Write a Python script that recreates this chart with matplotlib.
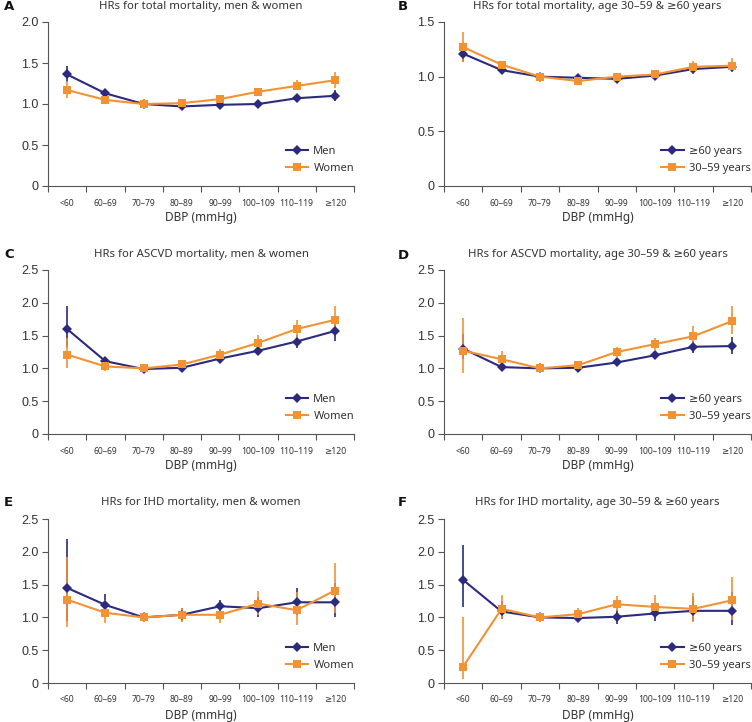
import matplotlib
matplotlib.use("Agg")
import matplotlib.pyplot as plt
from matplotlib.lines import Line2D
import numpy as np

plt.rcParams['font.family'] = ['Noto Sans', 'DejaVu Sans']

categories = ["<60", "60–69", "70–79", "80–89", "90–99", "100–109", "110–119", "≥120"]

# Panel A: total mortality, men & women
a_men = [1.36, 1.13, 1.00, 0.97, 0.99, 1.00, 1.07, 1.10]
a_men_lo = [1.27, 1.10, 0.99, 0.95, 0.97, 0.96, 1.03, 1.04]
a_men_hi = [1.46, 1.15, 1.01, 0.99, 1.01, 1.04, 1.12, 1.17]
a_women = [1.17, 1.05, 1.00, 1.01, 1.06, 1.15, 1.22, 1.29]
a_women_lo = [1.07, 1.03, 0.99, 0.99, 1.04, 1.13, 1.17, 1.19]
a_women_hi = [1.28, 1.08, 1.01, 1.03, 1.08, 1.18, 1.29, 1.39]

# Panel B: total mortality, age groups
b_old = [1.21, 1.06, 1.00, 0.99, 0.98, 1.01, 1.07, 1.09]
b_old_lo = [1.13, 1.04, 0.99, 0.97, 0.96, 1.00, 1.05, 1.07]
b_old_hi = [1.28, 1.08, 1.01, 1.01, 1.00, 1.03, 1.10, 1.12]
b_young = [1.27, 1.11, 1.00, 0.96, 1.00, 1.02, 1.09, 1.10]
b_young_lo = [1.13, 1.08, 0.99, 0.95, 0.98, 1.00, 1.02, 1.04]
b_young_hi = [1.41, 1.13, 1.01, 0.98, 1.02, 1.04, 1.14, 1.17]

# Panel C: ASCVD mortality, men & women
c_men = [1.60, 1.11, 0.99, 1.01, 1.15, 1.27, 1.41, 1.57]
c_men_lo = [1.32, 1.05, 0.97, 0.99, 1.11, 1.21, 1.31, 1.42]
c_men_hi = [1.95, 1.18, 1.02, 1.04, 1.18, 1.33, 1.51, 1.72]
c_women = [1.21, 1.03, 1.00, 1.06, 1.21, 1.39, 1.60, 1.74]
c_women_lo = [1.01, 0.96, 0.98, 1.03, 1.13, 1.28, 1.45, 1.55]
c_women_hi = [1.47, 1.10, 1.02, 1.09, 1.30, 1.51, 1.74, 1.95]

# Panel D: ASCVD mortality, age groups
d_old = [1.30, 1.02, 1.00, 1.01, 1.09, 1.20, 1.33, 1.34]
d_old_lo = [1.14, 0.97, 0.98, 0.98, 1.04, 1.14, 1.24, 1.22]
d_old_hi = [1.53, 1.09, 1.02, 1.05, 1.15, 1.26, 1.42, 1.48]
d_young = [1.27, 1.14, 1.00, 1.05, 1.25, 1.37, 1.49, 1.72]
d_young_lo = [0.93, 1.03, 0.98, 0.99, 1.17, 1.28, 1.37, 1.52]
d_young_hi = [1.77, 1.26, 1.02, 1.12, 1.33, 1.47, 1.64, 1.95]

# Panel E: IHD mortality, men & women
e_men = [1.45, 1.19, 1.00, 1.04, 1.17, 1.14, 1.23, 1.23]
e_men_lo = [0.95, 1.03, 0.98, 0.95, 1.09, 1.01, 1.04, 1.00]
e_men_hi = [2.19, 1.36, 1.02, 1.15, 1.27, 1.31, 1.45, 1.53]
e_women = [1.27, 1.07, 1.00, 1.04, 1.04, 1.21, 1.11, 1.41]
e_women_lo = [0.86, 0.91, 0.98, 0.93, 0.91, 1.03, 0.89, 1.07]
e_women_hi = [1.92, 1.26, 1.02, 1.15, 1.17, 1.41, 1.39, 1.83]

# Panel F: IHD mortality, age groups
f_old = [1.57, 1.09, 1.00, 0.99, 1.01, 1.06, 1.10, 1.10]
f_old_lo = [1.16, 0.97, 0.98, 0.93, 0.90, 0.94, 0.94, 0.89]
f_old_hi = [2.10, 1.25, 1.02, 1.05, 1.13, 1.19, 1.31, 1.39]
f_young = [0.25, 1.13, 1.00, 1.05, 1.20, 1.16, 1.13, 1.26]
f_young_lo = [0.06, 0.97, 0.98, 0.97, 1.10, 1.01, 0.93, 0.96]
f_young_hi = [1.00, 1.34, 1.02, 1.14, 1.32, 1.34, 1.37, 1.61]

NAVY = "#2c2a7e"
ORANGE = "#f29232"
AXC = "#555555"

W, H = 752, 722
fig = plt.figure(figsize=(W / 100, H / 100), dpi=100)

def px_axes(x0, x1, ytop, ybot):
    return fig.add_axes([x0 / W, 1 - ybot / H, (x1 - x0) / W, (ybot - ytop) / H])

panels = [
    dict(letter="A", title="HRs for total mortality, men & women", ymax=2.0,
         s1=(a_men, a_men_lo, a_men_hi), s2=(a_women, a_women_lo, a_women_hi),
         labels=("Men", "Women"), box=(48, 354, 22, 186), lx=4, ly=6, ty=6),
    dict(letter="B", title="HRs for total mortality, age 30–59 & ≥60 years", ymax=1.5,
         s1=(b_old, b_old_lo, b_old_hi), s2=(b_young, b_young_lo, b_young_hi),
         labels=("≥60 years", "30–59 years"), box=(444, 751, 22, 186), lx=398, ly=6, ty=6),
    dict(letter="C", title="HRs for ASCVD mortality, men & women", ymax=2.5,
         s1=(c_men, c_men_lo, c_men_hi), s2=(c_women, c_women_lo, c_women_hi),
         labels=("Men", "Women"), box=(48, 354, 270, 434), lx=4, ly=254, ty=255),
    dict(letter="D", title="HRs for ASCVD mortality, age 30–59 & ≥60 years", ymax=2.5,
         s1=(d_old, d_old_lo, d_old_hi), s2=(d_young, d_young_lo, d_young_hi),
         labels=("≥60 years", "30–59 years"), box=(444, 751, 270, 434), lx=398, ly=255, ty=255),
    dict(letter="E", title="HRs for IHD mortality, men & women", ymax=2.5,
         s1=(e_men, e_men_lo, e_men_hi), s2=(e_women, e_women_lo, e_women_hi),
         labels=("Men", "Women"), box=(48, 354, 519, 683), lx=4, ly=503, ty=503),
    dict(letter="F", title="HRs for IHD mortality, age 30–59 & ≥60 years", ymax=2.5,
         s1=(f_old, f_old_lo, f_old_hi), s2=(f_young, f_young_lo, f_young_hi),
         labels=("≥60 years", "30–59 years"), box=(444, 751, 519, 683), lx=398, ly=503, ty=503),
]

x = np.arange(len(categories))

for p in panels:
    x0, x1, yt, yb = p["box"]
    ax = px_axes(x0, x1, yt, yb)
    hpx = yb - yt
    handles = []
    for (vals, lo, hi), col, mk, ms, lab in [
        (p["s1"], NAVY, "D", 5.2, p["labels"][0]),
        (p["s2"], ORANGE, "s", 5.2, p["labels"][1]),
    ]:
        vals = np.array(vals); lo = np.array(lo); hi = np.array(hi)
        yerr = np.vstack([vals - lo, hi - vals])
        ax.errorbar(x, vals, yerr=yerr, color=col, ecolor=col, elinewidth=1.2,
                    capsize=3, capthick=1.2, lw=1.5, marker=mk, ms=ms,
                    markeredgewidth=0)
        handles.append(Line2D([], [], color=col, lw=1.5, marker=mk, ms=ms,
                              markeredgewidth=0, label=lab))
    ax.set_xlim(-0.5, len(categories) - 0.5)
    ax.set_ylim(0, p["ymax"])
    yt_vals = np.arange(0, p["ymax"] + 0.01, 0.5)
    ax.set_yticks(yt_vals)
    ax.set_yticklabels(["0" if v == 0 else f"{v:.1f}" for v in yt_vals],
                       fontsize=9, color="#333333", family="Liberation Sans")
    ax.set_xticks(x)
    ax.set_xticklabels(categories, fontsize=6.2, color="#333333")
    ax.set_xticks(np.arange(-0.5, len(categories)), minor=True)
    ax.tick_params(axis="x", which="major", length=0, pad=9)
    ax.tick_params(axis="x", which="minor", length=4, width=0.8, color=AXC)
    ax.tick_params(axis="y", length=4, width=0.8, color=AXC, pad=3)
    for s in ["top", "right"]:
        ax.spines[s].set_visible(False)
    for s in ["left", "bottom"]:
        ax.spines[s].set_color(AXC)
        ax.spines[s].set_linewidth(0.8)
    ax.text(0.5, 1 + (yt - p["ty"]) / hpx, p["title"], transform=ax.transAxes,
            ha="center", va="center", fontsize=8.2, color="#333333")
    ax.text(0.5, -32 / hpx, "DBP (mmHg)", transform=ax.transAxes,
            ha="center", va="center", fontsize=8.5, color="#333333")
    fig.text(p["lx"] / W, 1 - p["ly"] / H, p["letter"], ha="left", va="center",
             fontsize=9.5, fontweight="bold", color="#111111", family="DejaVu Sans")
    leg = ax.legend(handles=handles, loc="lower right", bbox_to_anchor=(1.0, 0.075),
                    frameon=False, fontsize=8, handlelength=2.0, handletextpad=0.5,
                    labelspacing=0.55, borderpad=0, borderaxespad=0)
    for t in leg.get_texts():
        t.set_color("#333333")

fig.savefig("out.png", dpi=100)
